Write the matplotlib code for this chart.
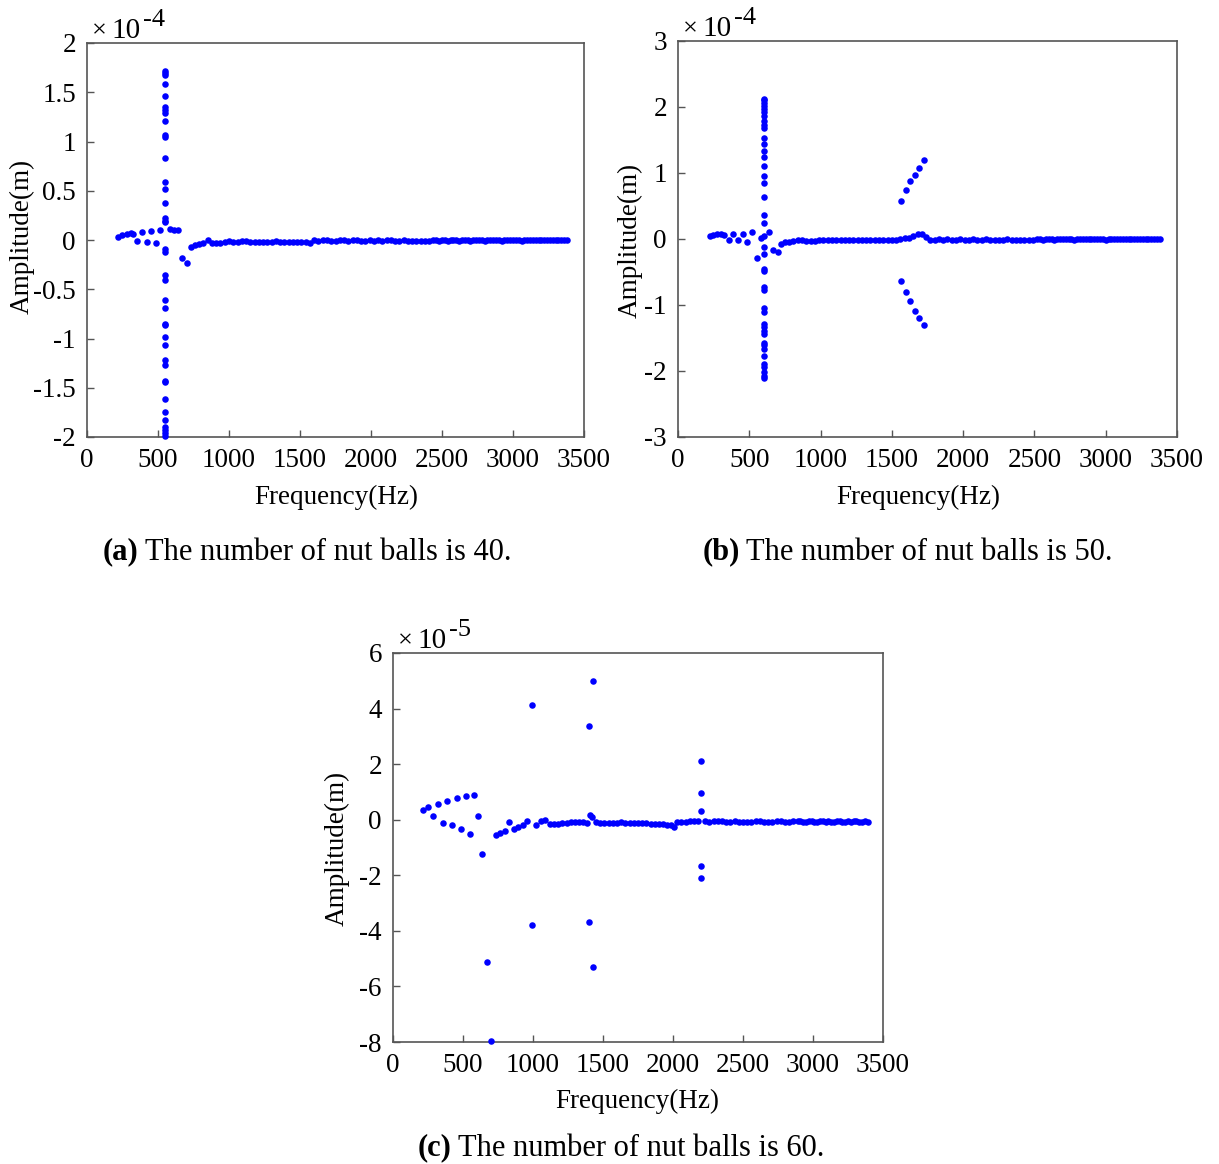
import numpy as np
import matplotlib.pyplot as plt

# Times-like serif for everything
plt.rcParams['font.family'] = ['Liberation Serif', 'DejaVu Serif']
plt.rcParams['mathtext.fontset'] = 'stix'
plt.rcParams['axes.unicode_minus'] = False

W, H = 1219, 1164

freq_ticks = [0, 500, 1000, 1500, 2000, 2500, 3000, 3500]
freq_tick_labels = ['0', '500', '1000', '1500', '2000', '2500', '3000', '3500']

# ---------------- (a) 40 nut balls, amplitude in 1e-4 m ----------------
yticks_a = [-2, -1.5, -1, -0.5, 0, 0.5, 1, 1.5, 2]
ytick_labels_a = ['-2', '-1.5', '-1', '-0.5', '0', '0.5', '1', '1.5', '2']

freq_a_low = [220, 244, 279, 307, 326, 354, 387, 420, 451, 486, 514, 584, 615, 643, 671, 702]
amp_a_low = [0.03, 0.05, 0.06, 0.07, 0.06, -0.01, 0.08, -0.02, 0.09, -0.03, 0.10, 0.11, 0.10, 0.10,
             -0.18, -0.23]

peak_freq_a = 550
amp_a_peak = [1.72, 1.70, 1.68, 1.58, 1.46, 1.35, 1.32, 1.29, 1.21, 1.07, 1.05, 0.83, 0.59, 0.52,
              0.38, 0.22, 0.19, 0.18, -0.09, -0.12, -0.36, -0.41, -0.61, -0.69, -0.85, -0.86,
              -0.98, -1.07, -1.22, -1.27, -1.43, -1.44, -1.61, -1.75, -1.83, -1.90, -1.93, -1.96,
              -1.99]

freq_a_flat = [730, 760, 790, 820, 850, 880, 910, 940, 970, 1000,
               1030, 1060, 1090, 1120, 1150, 1180, 1210, 1240, 1270, 1300,
               1330, 1360, 1390, 1420, 1450, 1480, 1510, 1540, 1570, 1600,
               1630, 1660, 1690, 1720, 1750, 1780, 1810, 1840, 1870, 1900,
               1930, 1960, 1990, 2020, 2050, 2080, 2110, 2140, 2170, 2200,
               2230, 2260, 2290, 2320, 2350, 2380, 2410, 2440,
               2460, 2480, 2500, 2520, 2540, 2560, 2580, 2600, 2620, 2640,
               2660, 2680, 2700, 2720, 2740, 2760, 2780, 2800, 2820, 2840,
               2860, 2880, 2900, 2920, 2940, 2960, 2980, 3000, 3020, 3040,
               3060, 3080, 3100, 3120, 3140, 3160, 3180, 3200, 3220, 3240,
               3260, 3280, 3300, 3320, 3340, 3360, 3380]
amp_a_flat = [-0.07, -0.05, -0.04, -0.03, 0.00, -0.03, -0.03, -0.03, -0.02, -0.01,
              -0.02, -0.02, -0.01, -0.01, -0.02, -0.02, -0.02, -0.02, -0.02, -0.02,
              -0.01, -0.02, -0.02, -0.02, -0.02, -0.02, -0.02, -0.02, -0.03, 0.00,
              -0.01, 0.00, 0.00, -0.01, -0.01, 0.00, 0.00, -0.01, 0.00, 0.00,
              -0.01, -0.01, 0.00, -0.01, 0.00, -0.01, 0.00, 0.00, -0.01, -0.01,
              0.00, -0.01, -0.01, -0.01, -0.01, -0.01, -0.01, 0.00,
              0.00, -0.01, 0.00, 0.00, -0.01, 0.00, 0.00, 0.00, -0.01, 0.00,
              0.00, 0.00, -0.01, 0.00, 0.00, 0.00, 0.00, -0.01, 0.00, 0.00,
              0.00, 0.00, 0.00, -0.01, 0.00, 0.00, 0.00, 0.00, 0.00, 0.00,
              -0.01, 0.00, 0.00, 0.00, 0.00, 0.00, 0.00, 0.00, 0.00, 0.00,
              0.00, 0.00, 0.00, 0.00, 0.00, 0.00, 0.00]

# ---------------- (b) 50 nut balls, amplitude in 1e-4 m ----------------
yticks_b = [-3, -2, -1, 0, 1, 2, 3]
ytick_labels_b = ['-3', '-2', '-1', '0', '1', '2', '3']

freq_b_low = [224, 248, 276, 302, 325, 355, 388, 421, 454, 486, 519, 552, 580, 638, 668, 699]
amp_b_low = [0.04, 0.06, 0.07, 0.07, 0.06, -0.02, 0.08, -0.02, 0.08, -0.04, 0.10, -0.29, 0.01,
             0.10, -0.16, -0.20]

peak_freq_b = 605
amp_b_peak = [2.12, 2.10, 2.06, 2.02, 1.97, 1.92, 1.86, 1.79, 1.72, 1.68, 1.53, 1.44, 1.34, 1.24,
              1.10, 0.96, 0.85, 0.63, 0.36, 0.25, 0.04, -0.12, -0.23, -0.46, -0.48, -0.73, -0.78,
              -1.04, -1.11, -1.29, -1.33, -1.39, -1.44, -1.57, -1.61, -1.67, -1.77, -1.89, -1.94,
              -2.02, -2.07, -2.11]

freq_b_branch = [1562, 1597, 1627, 1662, 1692, 1725]
amp_b_upper = [0.58, 0.74, 0.88, 0.97, 1.07, 1.20]
amp_b_lower = [-0.64, -0.80, -0.94, -1.09, -1.20, -1.30]

freq_b_flat = [720, 750, 780, 810, 840, 870, 900, 930, 960, 990,
               1020, 1050, 1080, 1110, 1140, 1170, 1200, 1230, 1260, 1290,
               1320, 1350, 1380, 1410, 1440, 1470, 1500, 1530, 1560, 1590,
               1620, 1650, 1680, 1710, 1740, 1770, 1800, 1830, 1860, 1890,
               1920, 1950, 1980, 2010, 2040, 2070, 2100, 2130, 2160, 2190,
               2220, 2250, 2280, 2310, 2340, 2370, 2400, 2430, 2460, 2490,
               2520, 2540, 2560, 2580, 2600, 2620, 2640, 2660, 2680, 2700,
               2720, 2740, 2760, 2780, 2800, 2820, 2840, 2860, 2880, 2900,
               2920, 2940, 2960, 2980, 3000, 3020, 3040, 3060, 3080, 3100,
               3120, 3140, 3160, 3180, 3200, 3220, 3240, 3260, 3280, 3300,
               3320, 3340, 3360, 3380]
amp_b_flat = [-0.07, -0.05, -0.045, -0.035, -0.01, -0.02, -0.03, -0.025, -0.025, -0.02,
              -0.015, -0.015, -0.01, -0.015, -0.01, -0.015, -0.01, -0.01, -0.015, -0.01,
              -0.01, -0.015, -0.01, -0.01, -0.01, -0.015, -0.01, -0.01, 0.00, 0.01,
              0.02, 0.04, 0.07, 0.07, 0.03, -0.01, -0.01, 0.00, -0.01, 0.00,
              -0.01, -0.01, 0.00, -0.01, -0.01, 0.00, -0.01, -0.01, 0.00, -0.01,
              -0.01, -0.01, -0.01, 0.00, -0.01, -0.01, -0.01, -0.01, -0.01, -0.01,
              0.00, 0.00, -0.01, 0.00, 0.00, 0.00, -0.01, 0.00, 0.00, 0.00,
              0.00, 0.00, 0.00, -0.01, 0.00, 0.00, 0.00, 0.00, 0.00, 0.00,
              0.00, 0.00, 0.00, 0.00, -0.01, 0.00, 0.00, 0.00, 0.00, 0.00,
              0.00, 0.00, 0.00, 0.00, 0.00, 0.00, 0.00, 0.00, 0.00, 0.00,
              0.00, 0.00, 0.00, 0.00]

# ---------------- (c) 60 nut balls, amplitude in 1e-5 m ----------------
yticks_c = [-8, -6, -4, -2, 0, 2, 4, 6]
ytick_labels_c = ['-8', '-6', '-4', '-2', '0', '2', '4', '6']

freq_c_low = [217, 252, 288, 324, 355, 388, 419, 455, 486, 519, 550, 581, 605, 638, 669, 700]
amp_c_low = [0.34, 0.46, 0.14, 0.58, -0.12, 0.66, -0.18, 0.78, -0.32, 0.87, -0.52, 0.90, 0.14,
             -1.22, -5.11, -7.96]

freq_c_spikes = [990, 990, 1400, 1400, 1431, 1431, 2198, 2198, 2198, 2198, 2198]
amp_c_spikes = [4.13, -3.80, 3.37, -3.69, 4.99, -5.31, 2.13, 0.96, 0.30, -1.66, -2.10]

freq_c_flat = [734, 764, 800, 831, 864, 895, 926, 959, 1021, 1055,
               1086, 1121, 1150, 1180, 1210, 1240, 1270, 1300, 1330, 1360,
               1385, 1405, 1420, 1450, 1480, 1510, 1540, 1570, 1600, 1630,
               1660, 1690, 1720, 1750, 1780, 1810, 1840, 1870, 1900, 1930,
               1960, 1985, 2005, 2030, 2060, 2090, 2120, 2150, 2180,
               2230, 2260, 2290, 2320, 2350, 2380, 2410, 2440, 2470, 2500,
               2530, 2560, 2590, 2620, 2650, 2680, 2710, 2740, 2770, 2800,
               2830, 2860, 2890,
               2910, 2930, 2950, 2970, 2990, 3010, 3030, 3050, 3070, 3090,
               3110, 3130, 3150, 3170, 3190, 3210, 3230, 3250, 3270, 3290,
               3310, 3330, 3350, 3370, 3390]
amp_c_flat = [-0.56, -0.48, -0.40, -0.07, -0.32, -0.26, -0.20, -0.06, -0.20, -0.06,
              -0.02, -0.16, -0.14, -0.14, -0.12, -0.12, -0.10, -0.10, -0.09, -0.08,
              -0.12, 0.16, 0.10, -0.10, -0.12, -0.12, -0.11, -0.11, -0.11, -0.10,
              -0.11, -0.12, -0.12, -0.13, -0.12, -0.13, -0.16, -0.16, -0.15, -0.17,
              -0.18, -0.18, -0.27, -0.10, -0.08, -0.07, -0.05, -0.06, -0.04,
              -0.06, -0.07, -0.06, -0.06, -0.06, -0.07, -0.07, -0.06, -0.07, -0.08,
              -0.09, -0.07, -0.06, -0.05, -0.09, -0.07, -0.08, -0.06, -0.05, -0.09,
              -0.07, -0.06, -0.05,
              -0.06, -0.07, -0.08, -0.06, -0.05, -0.07, -0.08, -0.06, -0.05, -0.07,
              -0.06, -0.08, -0.07, -0.06, -0.05, -0.07, -0.08, -0.06, -0.07, -0.05,
              -0.06, -0.08, -0.07, -0.06, -0.07]

fig = plt.figure(figsize=(W / 100, H / 100), dpi=100)
renderer = fig.canvas.get_renderer()

def px(x, y):
    return x / W, 1 - y / H

def text_after(t, dx, y, s, **kw):
    # place a text right after another one (pixel gap dx)
    bb = t.get_window_extent(renderer=renderer)
    return fig.text((bb.x1 + dx) / W, 1 - y / H, s, **kw)

def draw_panel(box, series, yticks, ylabels, exponent):
    left, top, right, bottom = box
    ax = fig.add_axes([left / W, 1 - bottom / H, (right - left) / W, (bottom - top) / H])
    for f, a in series:
        ax.plot(f, a, 'o', color='#0000ff', ms=4.7, mec='none', clip_on=False, zorder=3)
    ax.set_xlim(0, 3500)
    ax.set_ylim(yticks[0], yticks[-1])
    ax.set_xticks(freq_ticks)
    ax.set_xticklabels(freq_tick_labels)
    ax.set_yticks(yticks)
    ax.set_yticklabels(ylabels)
    ax.tick_params(direction='in', length=5, width=1, color='#555555',
                   labelsize=19.5, pad=8, top=False, right=False)
    for s in ax.spines.values():
        s.set_color('#555555')
        s.set_linewidth(1.2)
    # MATLAB style multiplier "x 10^-n" above the top-left corner
    t1 = fig.text(*px(left + 5, top - 6), '\u00d7', fontsize=19, ha='left', va='baseline')
    t2 = text_after(t1, 5, top - 5, '10', fontsize=21, ha='left', va='baseline')
    text_after(t2, 2, top - 17, exponent, fontsize=19, ha='left', va='baseline')
    return ax

def caption(x, y, tag, rest):
    t = fig.text(*px(x, y), tag, fontsize=22, weight='bold', ha='left', va='center')
    text_after(t, 6, y, rest, fontsize=22, ha='left', va='center')

# (a)
draw_panel((87, 43, 584, 437),
           [(freq_a_low, amp_a_low),
            (np.full(len(amp_a_peak), peak_freq_a), amp_a_peak),
            (freq_a_flat, amp_a_flat)],
           yticks_a, ytick_labels_a, '-4')
fig.text(*px(22, 236), 'Amplitude(m)', rotation=90, fontsize=19.5, ha='center', va='center')
fig.text(*px(336, 497), 'Frequency(Hz)', fontsize=19.5, ha='center', va='center')
caption(103, 552, '(a)', 'The number of nut balls is 40.')

# (b)
draw_panel((678, 41, 1177, 437),
           [(freq_b_low, amp_b_low),
            (np.full(len(amp_b_peak), peak_freq_b), amp_b_peak),
            (freq_b_branch, amp_b_upper),
            (freq_b_branch, amp_b_lower),
            (freq_b_flat, amp_b_flat)],
           yticks_b, ytick_labels_b, '-4')
fig.text(*px(630, 240), 'Amplitude(m)', rotation=90, fontsize=19.5, ha='center', va='center')
fig.text(*px(918, 497), 'Frequency(Hz)', fontsize=19.5, ha='center', va='center')
caption(703, 552, '(b)', 'The number of nut balls is 50.')

# (c)
draw_panel((393, 653, 883, 1042),
           [(freq_c_low, amp_c_low),
            (freq_c_spikes, amp_c_spikes),
            (freq_c_flat, amp_c_flat)],
           yticks_c, ytick_labels_c, '-5')
fig.text(*px(337, 848), 'Amplitude(m)', rotation=90, fontsize=19.5, ha='center', va='center')
fig.text(*px(637, 1101), 'Frequency(Hz)', fontsize=19.5, ha='center', va='center')
caption(418, 1148, '(c)', 'The number of nut balls is 60.')

fig.savefig('out.png', dpi=100)
